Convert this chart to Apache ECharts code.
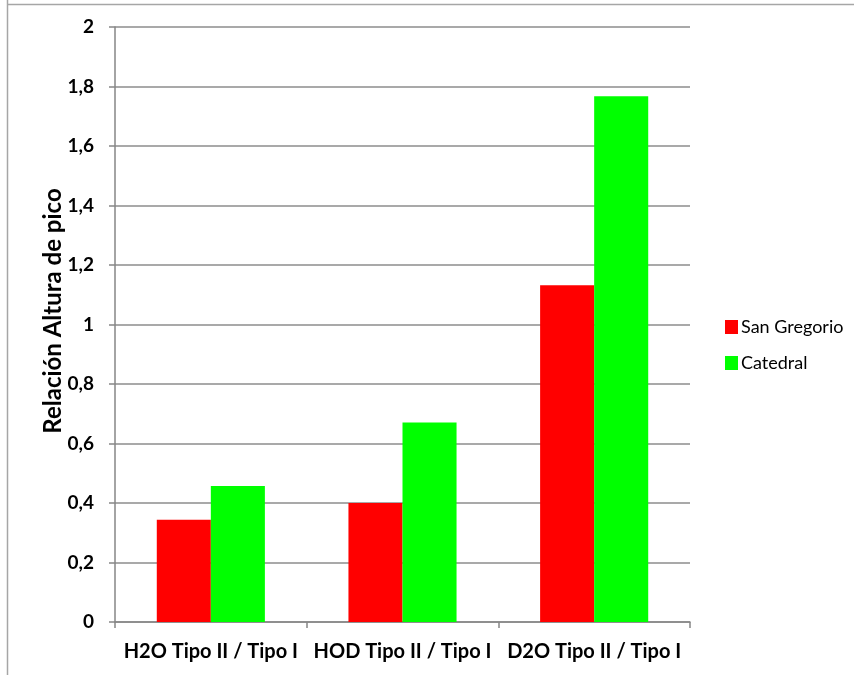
<!DOCTYPE html>
<html>
<head>
<meta charset="utf-8">
<script src="https://cdn.jsdelivr.net/npm/echarts@6/dist/echarts.min.js"></script>
<style>
  html, body { margin: 0; padding: 0; background: #fff; }
  #chart { width: 854px; height: 675px; }
</style>
</head>
<body>
<div id="chart"></div>
<script>
// Peak-height ratios (Tipo II / Tipo I) for each water species
const categories = ['H2O Tipo II / Tipo I', 'HOD Tipo II / Tipo I', 'D2O Tipo II / Tipo I'];
const sanGregorio = [0.344, 0.400, 1.132];
const catedral = [0.457, 0.671, 1.767];
const seriesNames = ['San Gregorio', 'Catedral'];
const yAxisTitle = 'Relación Altura de pico';

const FONT = 'Lato, "Open Sans", sans-serif';

const chart = echarts.init(document.getElementById('chart'));
chart.setOption({
  backgroundColor: '#ffffff',
  animation: false,
  graphic: [
    { type: 'line', shape: { x1: 7.5, y1: 0, x2: 7.5, y2: 675 }, style: { stroke: '#a6a6a6', lineWidth: 1.5 } },
    { type: 'line', shape: { x1: 7, y1: 4.5, x2: 854, y2: 4.5 }, style: { stroke: '#a6a6a6', lineWidth: 1.5 } }
  ],
  grid: { left: 115, right: 164, top: 27, bottom: 53, containLabel: false },
  legend: {
    orient: 'vertical',
    left: 720,
    top: 313,
    itemWidth: 13,
    itemHeight: 14,
    itemGap: 18,
    icon: 'rect',
    textStyle: { fontFamily: FONT, fontSize: 18, color: '#000', padding: [0, 0, 0, -2] },
    data: seriesNames
  },
  xAxis: {
    type: 'category',
    data: categories,
    axisLine: { lineStyle: { color: '#868686', width: 1.5 } },
    axisTick: { show: true, length: 6, lineStyle: { color: '#868686', width: 1.5 } },
    axisLabel: {
      interval: 0, hideOverlap: false,
      fontFamily: FONT, fontWeight: 'bold', fontSize: 20, color: '#000', margin: 20
    }
  },
  yAxis: {
    type: 'value',
    min: 0,
    max: 2,
    interval: 0.2,
    name: yAxisTitle,
    nameLocation: 'middle',
    nameRotate: 90,
    nameGap: 50,
    nameMoveOverlap: false,
    nameTextStyle: { fontFamily: FONT, fontWeight: 'bold', fontSize: 24, color: '#000', padding: [0, 0, 0, 27] },
    axisLine: { show: true, lineStyle: { color: '#868686', width: 1.5 } },
    axisTick: { show: true, length: 6, inside: false, lineStyle: { color: '#868686', width: 1.5 } },
    splitLine: { lineStyle: { color: '#8c8c8c', width: 1.5 } },
    axisLabel: {
      fontFamily: FONT, fontWeight: 'bold', fontSize: 19, color: '#000', margin: 21,
      formatter: v => (Math.round(v * 10) / 10).toString().replace('.', ',')
    }
  },
  series: [
    {
      name: seriesNames[0], type: 'bar', data: sanGregorio,
      itemStyle: { color: '#ff0000' },
      barGap: '0%', barCategoryGap: '43.6%'
    },
    {
      name: seriesNames[1], type: 'bar', data: catedral,
      itemStyle: { color: '#00ff00' },
      barGap: '0%', barCategoryGap: '43.6%'
    }
  ]
});
</script>
</body>
</html>
